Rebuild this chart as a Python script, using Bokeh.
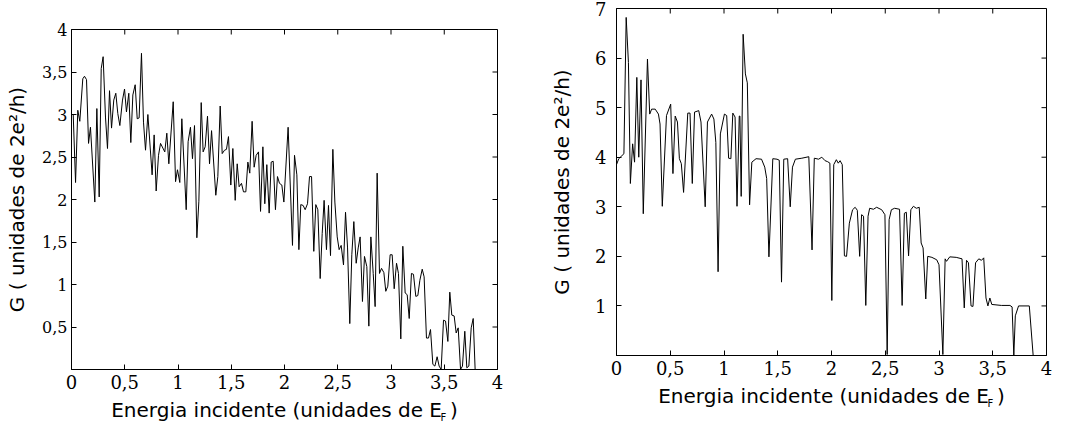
import math
from bokeh.plotting import figure
from bokeh.models import Range1d, FixedTicker, Title, CustomJSTickFormatter
from bokeh.layouts import row
from bokeh.embed import file_html
from bokeh.resources import INLINE

# ---- data ----
x_ticks = [0, 0.5, 1, 1.5, 2, 2.5, 3, 3.5, 4]
left_y_ticks = [0.5, 1, 1.5, 2, 2.5, 3, 3.5, 4]
right_y_ticks = [1, 2, 3, 4, 5, 6, 7]

x_title = "Energia incidente (unidades de E\u2009\u2009)"
x_title_sub = "F"
y_title = "G ( unidades de 2e\u00b2/h)"

energy_a = [0.000,0.016,0.038,0.059,0.078,0.106,0.122,0.141,0.160,0.178,
            0.219,0.238,0.260,0.279,0.297,0.319,0.338,0.357,0.376,0.397,
            0.416,0.435,0.454,0.479,0.498,0.516,0.538,0.557,0.576,0.598,
            0.617,0.635,0.657,0.676,0.695,0.717,0.757,0.776,0.795,0.817,
            0.836,0.876,0.895,0.914,0.955,0.977,0.995,1.017,1.036,1.077,
            1.095,1.117,1.136,1.155,1.177,1.196,1.218,1.236,1.255,1.277,
            1.296,1.315,1.355,1.374,1.396,1.415,1.437,1.455,1.474,1.496,
            1.515,1.537,1.556,1.574,1.596,1.615,1.637,1.656,1.674,1.696,
            1.715,1.734,1.756,1.775,1.797,1.815,1.834,1.856,1.875,1.894,
            1.915,1.934,1.953,1.975,1.994,2.034,2.075,2.094,2.116,2.135,
            2.153,2.175,2.194,2.216,2.235,2.254,2.275,2.294,2.313,2.335,
            2.354,2.372,2.394,2.413,2.432,2.454,2.473,2.495,2.513,2.532,
            2.554,2.573,2.592,2.613,2.632,2.651,2.673,2.692,2.710,2.732,
            2.751,2.773,2.792,2.811,2.833,2.851,2.870,2.892,2.911,2.933,
            2.951,2.970,2.992,3.011,3.030,3.052,3.070,3.092,3.111,3.133,
            3.152,3.171,3.192,3.211,3.233,3.252,3.271,3.293,3.311,3.333,
            3.352,3.371,3.393,3.412,3.433,3.452,3.471,3.493,3.512,3.534,
            3.552,3.571,3.593,3.612,3.631,3.653,3.671,3.693,3.712,3.731,
            3.753,3.772,3.790]
g_a = [3.00,3.00,2.20,3.05,2.92,3.42,3.45,3.41,2.66,2.85,
       1.97,3.07,2.03,3.54,3.68,2.97,2.60,3.28,2.84,3.17,
       3.25,3.01,2.87,3.17,3.30,3.03,3.25,2.67,3.23,3.35,
       2.95,2.96,3.72,2.91,2.58,3.00,2.29,2.76,2.10,2.52,
       2.66,2.56,2.78,2.42,3.15,2.21,2.35,2.20,2.95,1.88,
       2.68,2.85,2.48,2.87,1.55,1.98,3.14,2.56,2.62,2.98,
       2.42,2.81,2.05,2.27,3.10,2.54,2.58,2.59,2.74,2.17,
       2.60,1.99,2.42,2.15,2.19,2.09,2.09,2.44,2.31,2.92,
       2.38,2.52,2.56,1.86,2.62,1.95,2.41,1.84,2.44,2.45,
       1.88,2.27,2.19,2.17,1.97,2.85,1.46,2.52,2.29,1.41,
       1.94,1.93,1.88,1.95,2.27,2.27,1.39,1.94,1.88,1.07,
       1.60,1.99,1.41,1.93,1.34,2.59,1.97,1.56,1.41,1.46,
       1.23,1.85,1.43,0.54,1.35,1.74,1.25,1.43,1.56,0.80,
       1.33,1.21,0.51,1.56,1.13,0.74,2.31,1.13,1.19,1.14,
       0.92,0.98,1.35,1.35,0.95,1.25,1.13,0.36,1.45,0.90,
       0.88,0.60,1.13,1.12,0.86,0.87,1.05,1.18,1.09,0.37,
       0.37,0.47,0.06,0.04,0.15,0.04,0.00,0.58,0.57,0.33,
       0.91,0.64,0.63,0.43,0.49,0.00,0.04,0.45,0.02,0.04,
       0.49,0.60,0.00]

energy_b = [0.000,0.021,0.069,0.090,0.111,0.129,0.150,0.168,0.189,0.207,
            0.228,0.249,0.288,0.309,0.327,0.360,0.390,0.405,0.426,0.465,
            0.504,0.525,0.546,0.567,0.585,0.603,0.624,0.663,0.684,0.705,
            0.726,0.765,0.786,0.825,0.846,0.885,0.906,0.924,0.945,0.966,
            1.004,1.025,1.043,1.064,1.082,1.103,1.121,1.142,1.148,1.160,
            1.178,1.199,1.217,1.238,1.259,1.298,1.349,1.379,1.397,1.418,
            1.454,1.493,1.514,1.535,1.556,1.592,1.616,1.637,1.664,1.724,
            1.789,1.819,1.840,1.880,1.910,1.940,1.964,1.985,2.003,2.021,
            2.045,2.063,2.080,2.100,2.120,2.140,2.166,2.196,2.220,2.240,
            2.262,2.280,2.298,2.319,2.340,2.355,2.390,2.420,2.467,2.497,
            2.518,2.536,2.557,2.587,2.633,2.657,2.678,2.696,2.717,2.738,
            2.762,2.789,2.816,2.834,2.852,2.877,2.895,2.934,2.979,3.000,
            3.036,3.057,3.070,3.100,3.160,3.214,3.235,3.256,3.274,3.298,
            3.316,3.340,3.370,3.395,3.416,3.437,3.455,3.473,3.491,3.580,
            3.660,3.680,3.696,3.710,3.740,3.840,3.876]
g_b = [3.85,3.97,4.07,6.82,5.91,3.47,4.27,3.90,5.61,4.00,
       5.56,2.86,5.98,4.87,4.97,4.97,4.87,4.67,3.01,4.84,
       5.07,3.67,4.83,4.71,3.97,3.87,3.29,4.89,4.89,3.47,
       4.91,4.94,4.71,3.00,4.71,4.87,4.77,4.30,1.69,4.47,
       4.87,4.84,3.98,3.97,4.89,4.81,3.01,4.83,4.83,3.21,
       6.48,5.68,5.50,3.04,3.90,3.97,3.96,3.80,3.57,1.99,
       3.97,3.96,3.94,1.48,3.96,3.97,3.00,3.80,3.96,3.98,
       4.01,2.13,3.98,3.96,4.00,3.93,3.91,3.88,1.11,3.85,
       3.95,3.88,3.93,3.85,2.01,2.00,2.67,2.94,2.99,2.93,
       2.00,2.84,2.81,1.01,2.81,2.97,2.95,2.99,2.94,2.84,
       0.02,2.74,2.94,2.97,2.95,1.01,2.87,2.89,2.01,2.94,
       3.01,2.97,2.99,2.27,2.17,1.14,2.00,1.98,1.93,1.83,
       0.02,1.95,1.90,1.99,1.98,1.95,0.96,1.92,1.87,1.00,
       0.99,1.87,1.95,1.92,1.97,1.16,1.00,1.16,1.03,1.01,
       1.01,0.98,0.00,0.80,1.00,1.00,0.00]

SERIF = "DejaVu Serif"
SANS = "DejaVu Sans"

comma_fmt = CustomJSTickFormatter(code="return String(tick).replace('.', ',');")


def make_fig(width, height, bl, br, bt, bb, y_max, y_ticks, xs, ys,
             ytick_size, ytick_standoff, ytitle_standoff, sub_offset):
    p = figure(width=width, height=height, output_backend="svg",
               toolbar_location=None, x_range=Range1d(0, 4),
               y_range=Range1d(0, y_max),
               min_border_left=bl, min_border_right=br,
               min_border_top=bt, min_border_bottom=bb,
               background_fill_color="white", border_fill_color="white")
    p.frame_align = False
    p.grid.visible = False
    p.outline_line_color = "black"
    p.outline_line_width = 1

    p.xaxis.ticker = FixedTicker(ticks=x_ticks)
    p.yaxis.ticker = FixedTicker(ticks=y_ticks)
    p.xaxis.formatter = comma_fmt
    p.yaxis.formatter = comma_fmt
    for ax in (p.xaxis[0], p.yaxis[0]):
        ax.major_tick_in = 5
        ax.major_tick_out = 0
        ax.minor_tick_line_color = None
        ax.axis_line_color = "black"
        ax.major_tick_line_color = "black"
        ax.major_label_text_font = SERIF
        ax.major_label_text_color = "black"
        ax.axis_label_text_font = SANS
        ax.axis_label_text_font_style = "normal"
        ax.axis_label_text_font_size = "20px"
        ax.axis_label_text_color = "black"
    p.xaxis.major_label_text_font_size = "18px"
    p.xaxis.major_label_standoff = 5
    p.xaxis.axis_label = x_title
    p.xaxis.axis_label_standoff = 6
    p.yaxis.major_label_text_font_size = ytick_size
    p.yaxis.major_label_standoff = ytick_standoff
    p.yaxis.axis_label = y_title
    p.yaxis.axis_label_standoff = ytitle_standoff

    # inward ticks on the top and right edges of the frame
    n_x, n_y = len(x_ticks), len(y_ticks)
    p.ray(x=x_ticks, y=[y_max] * n_x, length=5, length_units="screen",
          angle=-math.pi / 2, line_color="black", line_width=1)
    p.ray(x=[4] * n_y, y=y_ticks, length=5, length_units="screen",
          angle=math.pi, line_color="black", line_width=1)

    p.line(xs, ys, line_color="black", line_width=1)

    # subscript F of E_F
    p.add_layout(Title(text=x_title_sub, align="left", offset=sub_offset,
                       vertical_align="top", standoff=-26,
                       text_font=SANS, text_font_size="10px",
                       text_font_style="normal", text_color="black"), "below")
    return p


p1 = make_fig(530, 427, 71, 33, 29, 58, 4, left_y_ticks, energy_a, g_a,
              "16px", 4, 10, 369)
p2 = make_fig(534, 427, 86, 18, 8, 72, 7, right_y_ticks, energy_b, g_b,
              "18px", 10, 18, 371)

layout = row(p1, p2)
open("out.html", "w").write(file_html(layout, INLINE))
